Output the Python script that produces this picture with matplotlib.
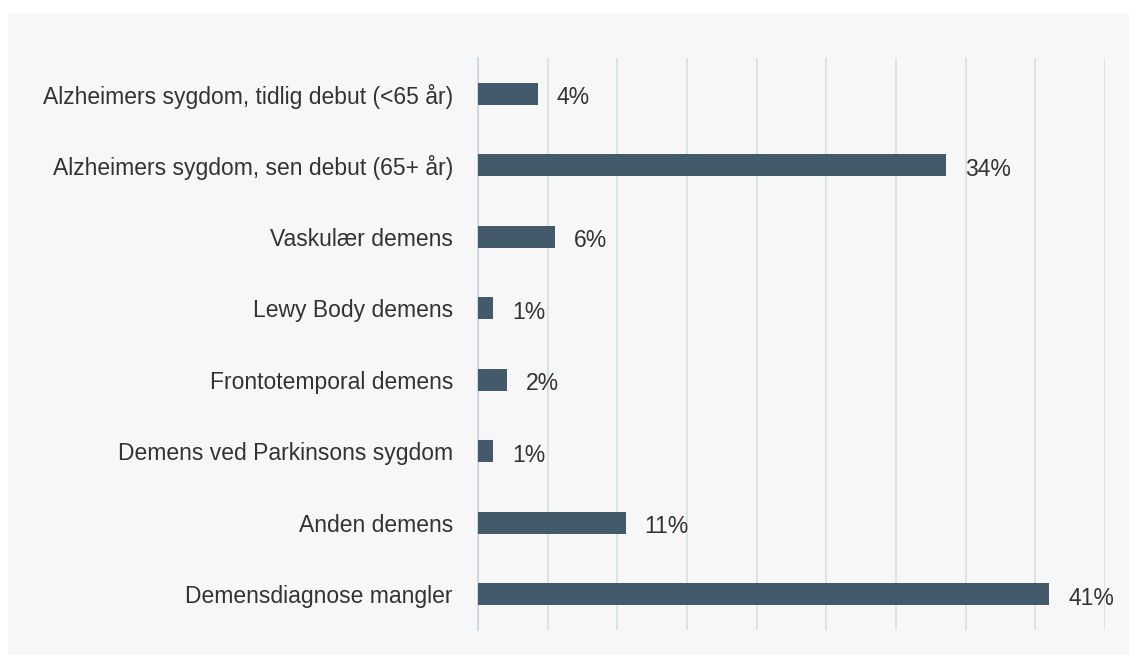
import matplotlib.pyplot as plt
from matplotlib.patches import Rectangle

categories = [
    "Alzheimers sygdom, tidlig debut (<65 år)",
    "Alzheimers sygdom, sen debut (65+ år)",
    "Vaskulær demens",
    "Lewy Body demens",
    "Frontotemporal demens",
    "Demens ved Parkinsons sygdom",
    "Anden demens",
    "Demensdiagnose mangler",
]
values = [4.3, 33.6, 5.5, 1.1, 2.1, 1.1, 10.6, 41.0]
value_labels = ["4%", "34%", "6%", "1%", "2%", "1%", "11%", "41%"]

plt.rcParams['font.family'] = ['Liberation Sans', 'DejaVu Sans']

fig = plt.figure(figsize=(11.29, 6.67), dpi=100)
fig.patch.set_facecolor('white')
# light gray panel behind the chart
fig.patches.append(Rectangle((8 / 1129, 12 / 667), 1, 642 / 667,
                             transform=fig.transFigure, facecolor='#f7f7f7',
                             edgecolor='none', zorder=-10))

ax = fig.add_axes([478 / 1129, 37 / 667, 627 / 1129, 572 / 667])
ax.set_facecolor('none')

y = list(range(len(categories)))
ax.barh(y, values, height=0.31, color='#435a6b', zorder=3)

for yi, v, lab in zip(y, values, value_labels):
    ax.annotate(lab, (v, yi), xytext=(13.5, -1), textcoords='offset points',
                va='center_baseline', ha='left', fontsize=16.5, color='#333333')

ax.set_xlim(0, 45)
ax.set_ylim(len(categories) - 0.5, -0.5)
ax.set_xticks(range(0, 46, 5))
ax.set_xticklabels([])
ax.tick_params(axis='x', length=0)
ax.tick_params(axis='y', length=0, pad=18)
ax.set_yticks(y)
ax.set_yticklabels(categories, fontsize=16.5, color='#333333')
ax.grid(axis='x', color='#d6dfe4', linewidth=1.2, zorder=0)

for side in ['top', 'right', 'bottom']:
    ax.spines[side].set_visible(False)
ax.spines['left'].set_color('#d0d9df')
ax.spines['left'].set_linewidth(1.5)

fig.savefig('out.png', dpi=100)
